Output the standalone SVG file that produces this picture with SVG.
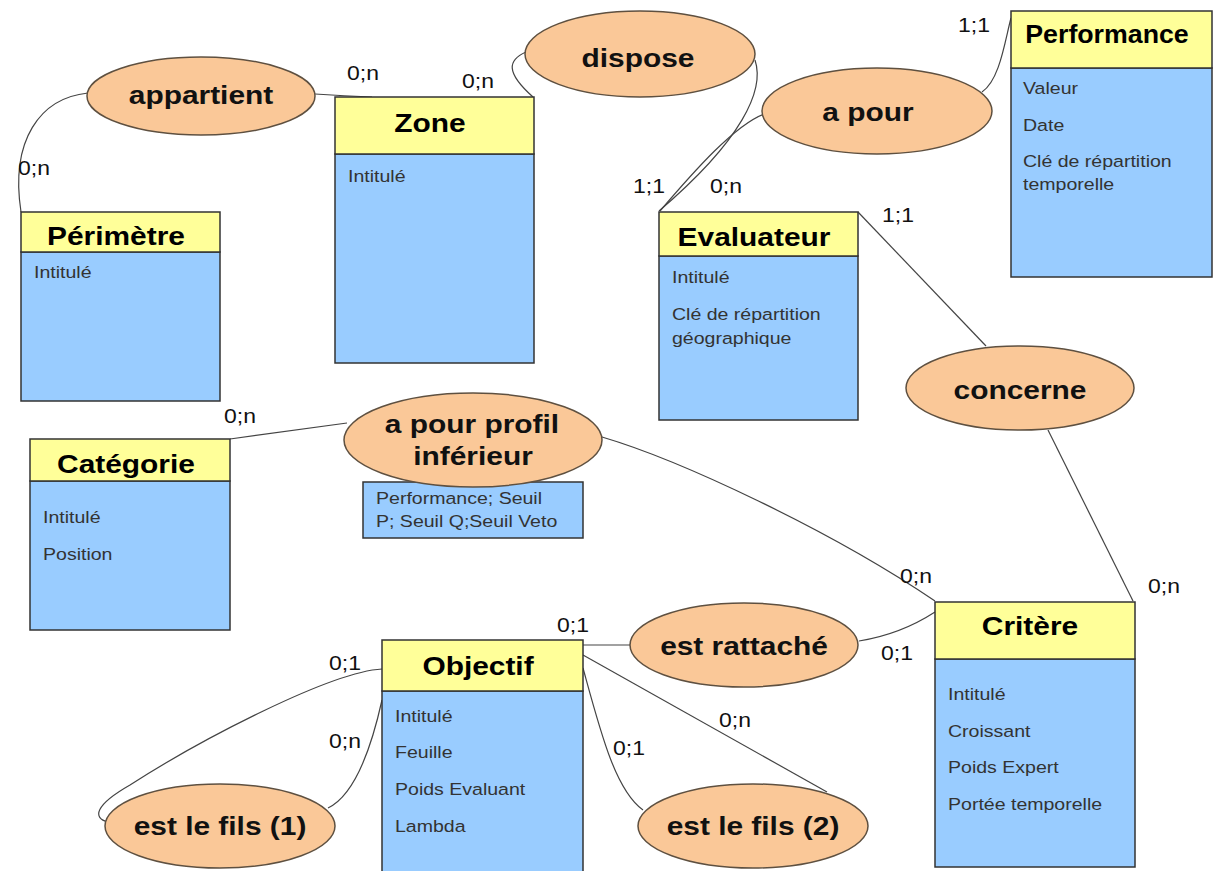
<svg xmlns="http://www.w3.org/2000/svg" width="1214" height="871" viewBox="0 0 1214 871">
<style>
.hd{fill:#FFFF99;stroke:#333;stroke-width:1.5}
.bd{fill:#99CCFF;stroke:#333;stroke-width:1.5}
.el{fill:#FAC898;stroke:#5e5040;stroke-width:1.5}
.ln{fill:none;stroke:#444;stroke-width:1.2}
.t{font-family:"Liberation Sans",Arial,sans-serif;font-weight:bold;font-size:26px;fill:#000;text-anchor:middle}
.r{font-family:"Liberation Sans",Arial,sans-serif;font-weight:bold;font-size:26px;fill:#111;text-anchor:middle}
.a{font-family:"Liberation Sans",Arial,sans-serif;font-size:17px;fill:#333}
.c{font-family:"Liberation Sans",Arial,sans-serif;font-size:20px;fill:#111}
</style>
<rect width="1214" height="871" fill="#fff"/>

<g id="connectors">
<path class="ln" d="M88,93 C40,98 10,140 21,212"/>
<path class="ln" d="M315,94 C330,95 345,96 372,97"/>
<path class="ln" d="M526,52 C508,60 505,72 533,97"/>
<path class="ln" d="M755,60 C765,90 742,140 659,211"/>
<path class="ln" d="M764,114 C735,125 695,170 660,211"/>
<path class="ln" d="M982,92 C1000,80 1005,40 1011,18"/>
<path class="ln" d="M858,212 L986,346"/>
<path class="ln" d="M1048,430 L1133,601"/>
<path class="ln" d="M230,439 L347,423"/>
<path class="ln" d="M602,437 C680,460 830,530 935,601"/>
<path class="ln" d="M583,645 L630,645"/>
<path class="ln" d="M859,641 C890,636 915,625 935,612"/>
<path class="ln" d="M583,655 L827,792"/>
<path class="ln" d="M583,668 C600,730 615,790 643,810"/>
<path class="ln" d="M382,669 C330,672 200,740 130,785 C95,805 92,818 108,822"/>
<path class="ln" d="M382,700 C372,745 355,795 328,808"/>
<text class="c" transform="translate(18 175) scale(1.15 1)">0;n</text>
<text class="c" transform="translate(347 80) scale(1.15 1)">0;n</text>
<text class="c" transform="translate(462 88) scale(1.15 1)">0;n</text>
<text class="c" transform="translate(633 193) scale(1.15 1)">1;1</text>
<text class="c" transform="translate(710 193) scale(1.15 1)">0;n</text>
<text class="c" transform="translate(958 32) scale(1.15 1)">1;1</text>
<text class="c" transform="translate(882 222) scale(1.15 1)">1;1</text>
<text class="c" transform="translate(1148 593) scale(1.15 1)">0;n</text>
<text class="c" transform="translate(224 423) scale(1.15 1)">0;n</text>
<text class="c" transform="translate(900 583) scale(1.15 1)">0;n</text>
<text class="c" transform="translate(557 632) scale(1.15 1)">0;1</text>
<text class="c" transform="translate(881 660) scale(1.15 1)">0;1</text>
<text class="c" transform="translate(719 727) scale(1.15 1)">0;n</text>
<text class="c" transform="translate(613 755) scale(1.15 1)">0;1</text>
<text class="c" transform="translate(329 670) scale(1.15 1)">0;1</text>
<text class="c" transform="translate(329 748) scale(1.15 1)">0;n</text>
</g>

<g id="perimetre">
<rect class="bd" x="21" y="252" width="199" height="149"/>
<rect class="hd" x="21" y="212" width="199" height="40"/>
<text class="t" transform="translate(116 245) scale(1.15 1)">Périmètre</text>
<text class="a" transform="translate(34 278) scale(1.15 1)">Intitulé</text>
</g>

<g id="zone">
<rect class="bd" x="335" y="154" width="199" height="209"/>
<rect class="hd" x="335" y="97" width="199" height="57"/>
<text class="t" transform="translate(430 132) scale(1.15 1)">Zone</text>
<text class="a" transform="translate(348 182) scale(1.15 1)">Intitulé</text>
</g>

<g id="evaluateur">
<rect class="bd" x="659" y="256" width="199" height="164"/>
<rect class="hd" x="659" y="212" width="199" height="44"/>
<text class="t" transform="translate(754 246) scale(1.15 1)">Evaluateur</text>
<text class="a" transform="translate(672 283) scale(1.15 1)">Intitulé</text>
<text class="a" transform="translate(672 320) scale(1.15 1)">Clé de répartition</text>
<text class="a" transform="translate(672 344) scale(1.15 1)">géographique</text>
</g>

<g id="performance">
<rect class="bd" x="1011" y="68" width="201" height="209"/>
<rect class="hd" x="1011" y="11" width="201" height="57"/>
<text class="t" transform="translate(1107 43) scale(1.07 1)" style="font-size:25px">Performance</text>
<text class="a" transform="translate(1023 94) scale(1.15 1)">Valeur</text>
<text class="a" transform="translate(1023 131) scale(1.15 1)">Date</text>
<text class="a" transform="translate(1023 167) scale(1.15 1)">Clé de répartition</text>
<text class="a" transform="translate(1023 190) scale(1.15 1)">temporelle</text>
</g>

<g id="categorie">
<rect class="bd" x="30" y="481" width="200" height="149"/>
<rect class="hd" x="30" y="439" width="200" height="42"/>
<text class="t" transform="translate(126 473) scale(1.15 1)">Catégorie</text>
<text class="a" transform="translate(43 523) scale(1.15 1)">Intitulé</text>
<text class="a" transform="translate(43 560) scale(1.15 1)">Position</text>
</g>

<g id="objectif">
<rect class="bd" x="382" y="691" width="201" height="190"/>
<rect class="hd" x="382" y="640" width="201" height="51"/>
<text class="t" transform="translate(478 675) scale(1.15 1)">Objectif</text>
<text class="a" transform="translate(395 722) scale(1.15 1)">Intitulé</text>
<text class="a" transform="translate(395 758) scale(1.15 1)">Feuille</text>
<text class="a" transform="translate(395 795) scale(1.15 1)">Poids Evaluant</text>
<text class="a" transform="translate(395 832) scale(1.15 1)">Lambda</text>
</g>

<g id="critere">
<rect class="bd" x="935" y="659" width="200" height="208"/>
<rect class="hd" x="935" y="602" width="200" height="57"/>
<text class="t" transform="translate(1030 635) scale(1.15 1)">Critère</text>
<text class="a" transform="translate(948 700) scale(1.15 1)">Intitulé</text>
<text class="a" transform="translate(948 737) scale(1.15 1)">Croissant</text>
<text class="a" transform="translate(948 773) scale(1.15 1)">Poids Expert</text>
<text class="a" transform="translate(948 810) scale(1.15 1)">Portée temporelle</text>
</g>

<g id="appartient">
<ellipse class="el" cx="201" cy="96" rx="114" ry="39"/>
<text class="r" transform="translate(201 104) scale(1.15 1)">appartient</text>
</g>

<g id="dispose">
<ellipse class="el" cx="640" cy="54" rx="115" ry="43"/>
<text class="r" transform="translate(638 67) scale(1.15 1)">dispose</text>
</g>

<g id="a-pour">
<ellipse class="el" cx="877" cy="111" rx="115" ry="43"/>
<text class="r" transform="translate(868 121) scale(1.15 1)">a pour</text>
</g>

<g id="concerne">
<ellipse class="el" cx="1020" cy="388" rx="114" ry="42"/>
<text class="r" transform="translate(1020 399) scale(1.15 1)">concerne</text>
</g>

<g id="a-pour-profil-inferieur">
<rect class="bd" x="363" y="482" width="220" height="56"/>
<text class="a" transform="translate(376 504) scale(1.15 1)">Performance; Seuil</text>
<text class="a" transform="translate(376 527) scale(1.15 1)">P; Seuil Q;Seuil Veto</text>
<ellipse class="el" cx="473" cy="440" rx="129" ry="47"/>
<text class="r" transform="translate(472 433) scale(1.15 1)">a pour profil</text>
<text class="r" transform="translate(473 465) scale(1.15 1)">inférieur</text>
</g>

<g id="est-rattache">
<ellipse class="el" cx="744" cy="645" rx="114" ry="42"/>
<text class="r" transform="translate(744 655) scale(1.15 1)">est rattaché</text>
</g>

<g id="est-le-fils-1">
<ellipse class="el" cx="220" cy="826" rx="115" ry="42"/>
<text class="r" transform="translate(220 835) scale(1.15 1)">est le fils (1)</text>
</g>

<g id="est-le-fils-2">
<ellipse class="el" cx="753" cy="826" rx="115" ry="42"/>
<text class="r" transform="translate(753 835) scale(1.15 1)">est le fils (2)</text>
</g>
</svg>
